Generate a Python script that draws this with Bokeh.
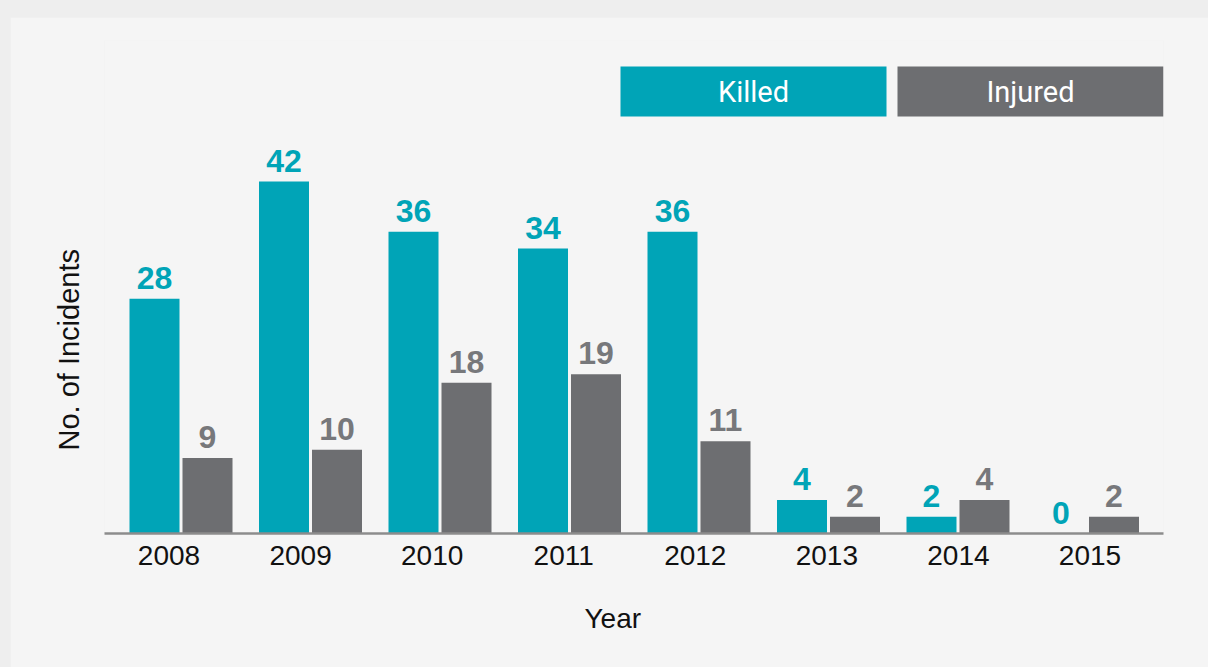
from bokeh.plotting import figure
from bokeh.models import Range1d, FixedTicker, BoxAnnotation, Label, ColumnDataSource, Title
from bokeh.embed import file_html
from bokeh.resources import INLINE
from bokeh.core.properties import value

# ---- data ----
years = ["2008", "2009", "2010", "2011", "2012", "2013", "2014", "2015"]
killed = [28, 42, 36, 34, 36, 4, 2, 0]
injured = [9, 10, 18, 19, 11, 2, 4, 2]
series_names = ["Killed", "Injured"]
y_title = "No. of Incidents"
x_title = "Year"

TEAL = "#00a4b7"
GRAY = "#6d6e71"
GRAY_TXT = "#77787b"

# ---- layout (page pixels) ----
FIG_X, FIG_Y = 10, 17
W, H = 1198, 650
F_L, F_R, F_T, F_B = 104, 1163, 40, 533
STEP_PX = 129.5
FIRST_CENTER_PX = 180.5
PX_PER_UNIT = 8.38

x0 = -(FIRST_CENTER_PX - F_L) / STEP_PX
x1 = x0 + (F_R - F_L) / STEP_PX
y1 = (F_B - F_T) / PX_PER_UNIT

def sx(px):
    return x0 + (px - F_L) / STEP_PX

def sy(py):
    return (F_B - py) / PX_PER_UNIT

p = figure(width=W, height=H, output_backend="svg", toolbar_location=None,
           x_range=Range1d(x0, x1), y_range=Range1d(0, y1),
           min_border_left=F_L - FIG_X, min_border_right=FIG_X + W - F_R,
           min_border_top=F_T - FIG_Y, min_border_bottom=FIG_Y + H - F_B,
           background_fill_color="#f5f5f5", border_fill_color="#f5f5f5",
           outline_line_color=None, margin=(FIG_Y, 0, 0, FIG_X))
p.xgrid.visible = False
p.ygrid.visible = False

off = 26.5 / STEP_PX
bw = 50 / STEP_PX
idx = list(range(len(years)))
src = ColumnDataSource(dict(
    xk=[i - off for i in idx], xi=[i + off for i in idx],
    killed=killed, injured=injured,
    kl=[str(v) for v in killed], il=[str(v) for v in injured]))

p.vbar(x="xk", top="killed", bottom=0, width=bw, source=src, fill_color=TEAL, line_color=None)
p.vbar(x="xi", top="injured", bottom=0, width=bw, source=src, fill_color=GRAY, line_color=None)

p.text(x="xk", y="killed", text="kl", source=src, text_align="center", text_baseline="alphabetic",
       y_offset=-21, text_font=value("Liberation Sans"), text_font_style="bold",
       text_font_size="32px", text_color=TEAL)
p.text(x="xi", y="injured", text="il", source=src, text_align="center", text_baseline="alphabetic",
       y_offset=-21, text_font=value("Liberation Sans"), text_font_style="bold",
       text_font_size="32px", text_color=GRAY_TXT)

# x axis
tick_px = [168.5 + 131.57 * i for i in idx]
ticks = [round(sx(t), 4) for t in tick_px]
p.xaxis.ticker = FixedTicker(ticks=ticks)
p.xaxis.major_label_overrides = {t: y for t, y in zip(ticks, years)}
p.xaxis.major_tick_line_color = None
p.xaxis.minor_tick_line_color = None
p.xaxis.major_tick_out = 0
p.xaxis.major_label_standoff = 12
p.xaxis.axis_line_color = "#8c8c8c"
p.xaxis.axis_line_width = 2.5
p.xaxis.major_label_text_font = "Liberation Sans"
p.xaxis.major_label_text_font_size = "28px"
p.xaxis.major_label_text_color = "#111111"

# axis titles as side titles (positioned like the reference)
p.add_layout(Title(text=x_title, align="left", offset=480, standoff=66,
                   text_color="#111111", text_font="Liberation Sans",
                   text_font_size="28px", text_font_style="normal"), "below")

p.yaxis.visible = False
p.add_layout(Title(text=y_title, align="left", offset=83, standoff=39,
                   text_color="#111111", text_font="Liberation Sans",
                   text_font_size="29px", text_font_style="normal"), "left")

# legend boxes
for name, color, lpx, rpx in [(series_names[0], TEAL, 620, 886), (series_names[1], GRAY, 897, 1163)]:
    p.add_layout(BoxAnnotation(left=sx(lpx), right=sx(rpx), top=sy(66), bottom=sy(116),
                               fill_color=color, fill_alpha=1, line_color=None, level="overlay"))
    p.add_layout(Label(x=sx((lpx + rpx) / 2), y=sy(91), text=name, text_align="center",
                       text_baseline="middle", text_color="white", text_font="Roboto",
                       text_font_size="29px", level="overlay"))

html = file_html(p, INLINE).replace("<body>", '<body style="background-color:#eeeeee;">')
open("out.html", "w").write(html)
